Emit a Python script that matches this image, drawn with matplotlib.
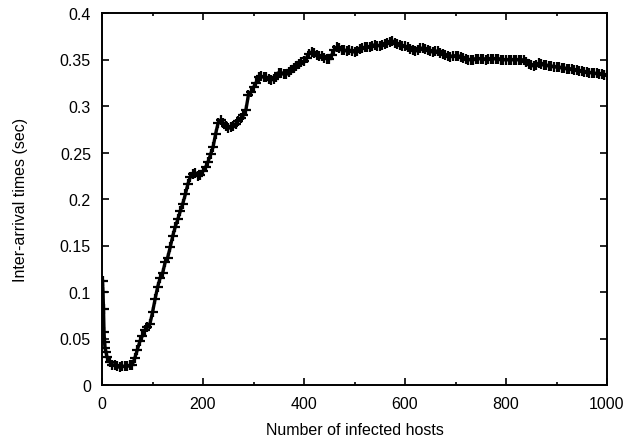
import matplotlib
matplotlib.use("Agg")
import matplotlib.pyplot as plt
from matplotlib.ticker import MultipleLocator

hosts = [1, 2, 3, 4, 5, 6, 8] + list(range(10, 1001, 5))
inter_arrival = [
    0.112, 0.100, 0.082, 0.057, 0.046, 0.040, 0.035,
    # 10 - 95
    0.030, 0.025, 0.022, 0.021, 0.020, 0.019, 0.020, 0.020, 0.020, 0.021,
    0.022, 0.029, 0.038, 0.047, 0.053, 0.059, 0.062, 0.066,
    # 100 - 195
    0.078, 0.092, 0.105, 0.115, 0.120, 0.132, 0.137, 0.148, 0.160, 0.170,
    0.178, 0.187, 0.195, 0.205, 0.216, 0.224, 0.227, 0.228, 0.225, 0.226,
    # 200 - 295
    0.230, 0.234, 0.240, 0.248, 0.256, 0.270, 0.282, 0.285, 0.282, 0.278,
    0.276, 0.277, 0.279, 0.281, 0.284, 0.287, 0.290, 0.296, 0.312, 0.315,
    # 300 - 395
    0.320, 0.325, 0.331, 0.332, 0.331, 0.331, 0.329, 0.328, 0.329, 0.331,
    0.336, 0.336, 0.334, 0.334, 0.337, 0.339, 0.341, 0.343, 0.345, 0.347,
    # 400 - 495
    0.348, 0.352, 0.356, 0.358, 0.357, 0.355, 0.354, 0.354, 0.352, 0.351,
    0.351, 0.355, 0.360, 0.363, 0.362, 0.360, 0.360, 0.359, 0.360, 0.359,
    # 500 - 595
    0.358, 0.359, 0.361, 0.362, 0.363, 0.363, 0.363, 0.364, 0.366, 0.365,
    0.365, 0.366, 0.367, 0.368, 0.369, 0.370, 0.368, 0.367, 0.366, 0.365,
    # 600 - 695
    0.364, 0.363, 0.361, 0.360, 0.359, 0.360, 0.362, 0.362, 0.361, 0.360,
    0.359, 0.358, 0.359, 0.359, 0.357, 0.356, 0.355, 0.354, 0.353, 0.354,
    # 700 - 795
    0.354, 0.354, 0.353, 0.352, 0.351, 0.350, 0.350, 0.350, 0.351, 0.351,
    0.351, 0.351, 0.350, 0.351, 0.351, 0.351, 0.351, 0.351, 0.350, 0.350,
    # 800 - 895
    0.350, 0.350, 0.350, 0.350, 0.350, 0.350, 0.350, 0.349, 0.347, 0.345,
    0.344, 0.343, 0.344, 0.346, 0.345, 0.344, 0.344, 0.343, 0.343, 0.342,
    # 900 - 995
    0.342, 0.342, 0.341, 0.341, 0.340, 0.340, 0.340, 0.339, 0.339, 0.338,
    0.338, 0.337, 0.337, 0.336, 0.336, 0.335, 0.335, 0.334, 0.334, 0.333,
    # 1000
    0.333,
]

x_ticks = [0, 200, 400, 600, 800, 1000]
y_ticks = [0, 0.05, 0.1, 0.15, 0.2, 0.25, 0.3, 0.35, 0.4]
y_tick_labels = ["0", "0.05", "0.1", "0.15", "0.2", "0.25", "0.3", "0.35", "0.4"]

plt.rcParams["font.family"] = ["Liberation Sans", "DejaVu Sans"]

fig = plt.figure(figsize=(6.37, 4.39), dpi=100)
ax = fig.add_axes([102 / 637, 1 - 386 / 439, (607 - 102) / 637, (386 - 14) / 439])

# dense band of the sample points
ax.plot(hosts, inter_arrival, linestyle="-", linewidth=2.4, marker="+",
        color="black", markersize=6.5, markeredgewidth=1.6)

ax.set_xlim(0, 1000)
ax.set_ylim(0, 0.4)
ax.set_xticks(x_ticks)
ax.set_yticks(y_ticks)
ax.set_yticklabels(y_tick_labels)
ax.xaxis.set_minor_locator(MultipleLocator(100))

ax.tick_params(which="both", direction="in", top=True, right=True,
               labelsize=11.5, width=1.2, pad=8)
ax.tick_params(which="major", length=5)
ax.tick_params(which="minor", length=2.5)
for s in ax.spines.values():
    s.set_linewidth(1.4)

ax.set_xlabel("Number of infected hosts", fontsize=11.5, labelpad=8)
ax.set_ylabel("Inter-arrival times (sec)", fontsize=11.5, labelpad=23)

fig.savefig("out.png", dpi=100)
